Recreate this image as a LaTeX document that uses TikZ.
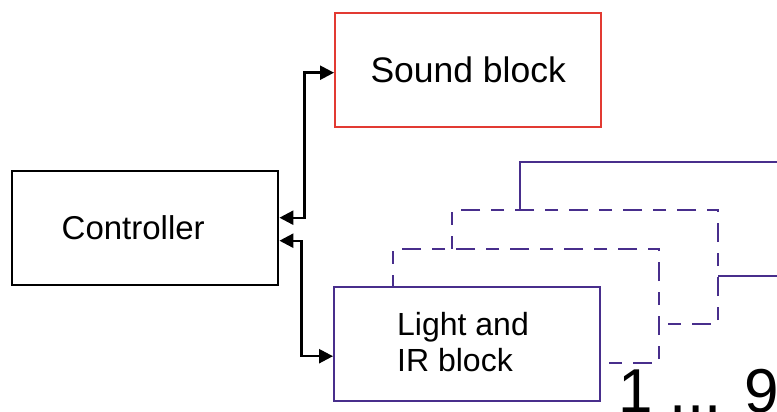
\documentclass[tikz,border=0pt]{standalone}
\usepackage{fontspec}
\setmainfont{Liberation Sans}
\usetikzlibrary{arrows.meta,calc}
\definecolor{redc}{RGB}{226,58,50}
\definecolor{bluec}{RGB}{72,46,140}
\begin{document}
\begin{tikzpicture}[x=1pt,y=-1pt,
  blk/.style={draw,line width=2.4pt,minimum width=266pt,minimum height=114pt,inner sep=0pt,fill=white,anchor=north west},
  arr/.style={line width=2.4pt,{Triangle[length=14pt,width=14pt]}-{Triangle[length=14pt,width=14pt]}},
  dsh/.style={dash pattern=on 13pt off 11pt on 19pt off 11pt},
  txt/.style={inner sep=0pt}]
\useasboundingbox (0,0) rectangle (777,412);
\clip (0,0) rectangle (777,412);
% controller and sound block
\node[blk] (ctrl) at (11,170) {};
\node[blk,draw=redc] (sound) at (334,12) {};
% stacked light blocks (back to front)
\node[blk,draw=bluec] (b4) at (519,161) {};
\node[blk,draw=bluec,dsh] (b3) at (451,209) {};
\node[blk,draw=bluec,dsh] (b2) at (392,248) {};
\node[blk,draw=bluec] (light) at (333,286) {};
% texts
\node[txt,font=\fontsize{33}{40}\selectfont] (ctrltxt) at ($(ctrl.center)+(-12,0)$) {Controller};
\node[txt,font=\fontsize{35.5}{42}\selectfont] (soundtxt) at (sound.center) {Sound block};
\node[txt,anchor=west,align=left,font=\fontsize{32}{36}\selectfont] (lighttxt) at (397,342.3) {Light and\\IR block};
\node[txt,anchor=base west,font=\fontsize{62}{70}\selectfont] (count) at (618,412) {1 ... 9};
% connectors
\draw[arr] ([yshift=10.5pt]ctrl.east) -- ++(25,0) |- ([yshift=-2.5pt]sound.west);
\draw[arr] ([yshift=-12.5pt]ctrl.east) -- ++(22,0) |- ([yshift=-12pt]light.west);
\end{tikzpicture}
\end{document}
